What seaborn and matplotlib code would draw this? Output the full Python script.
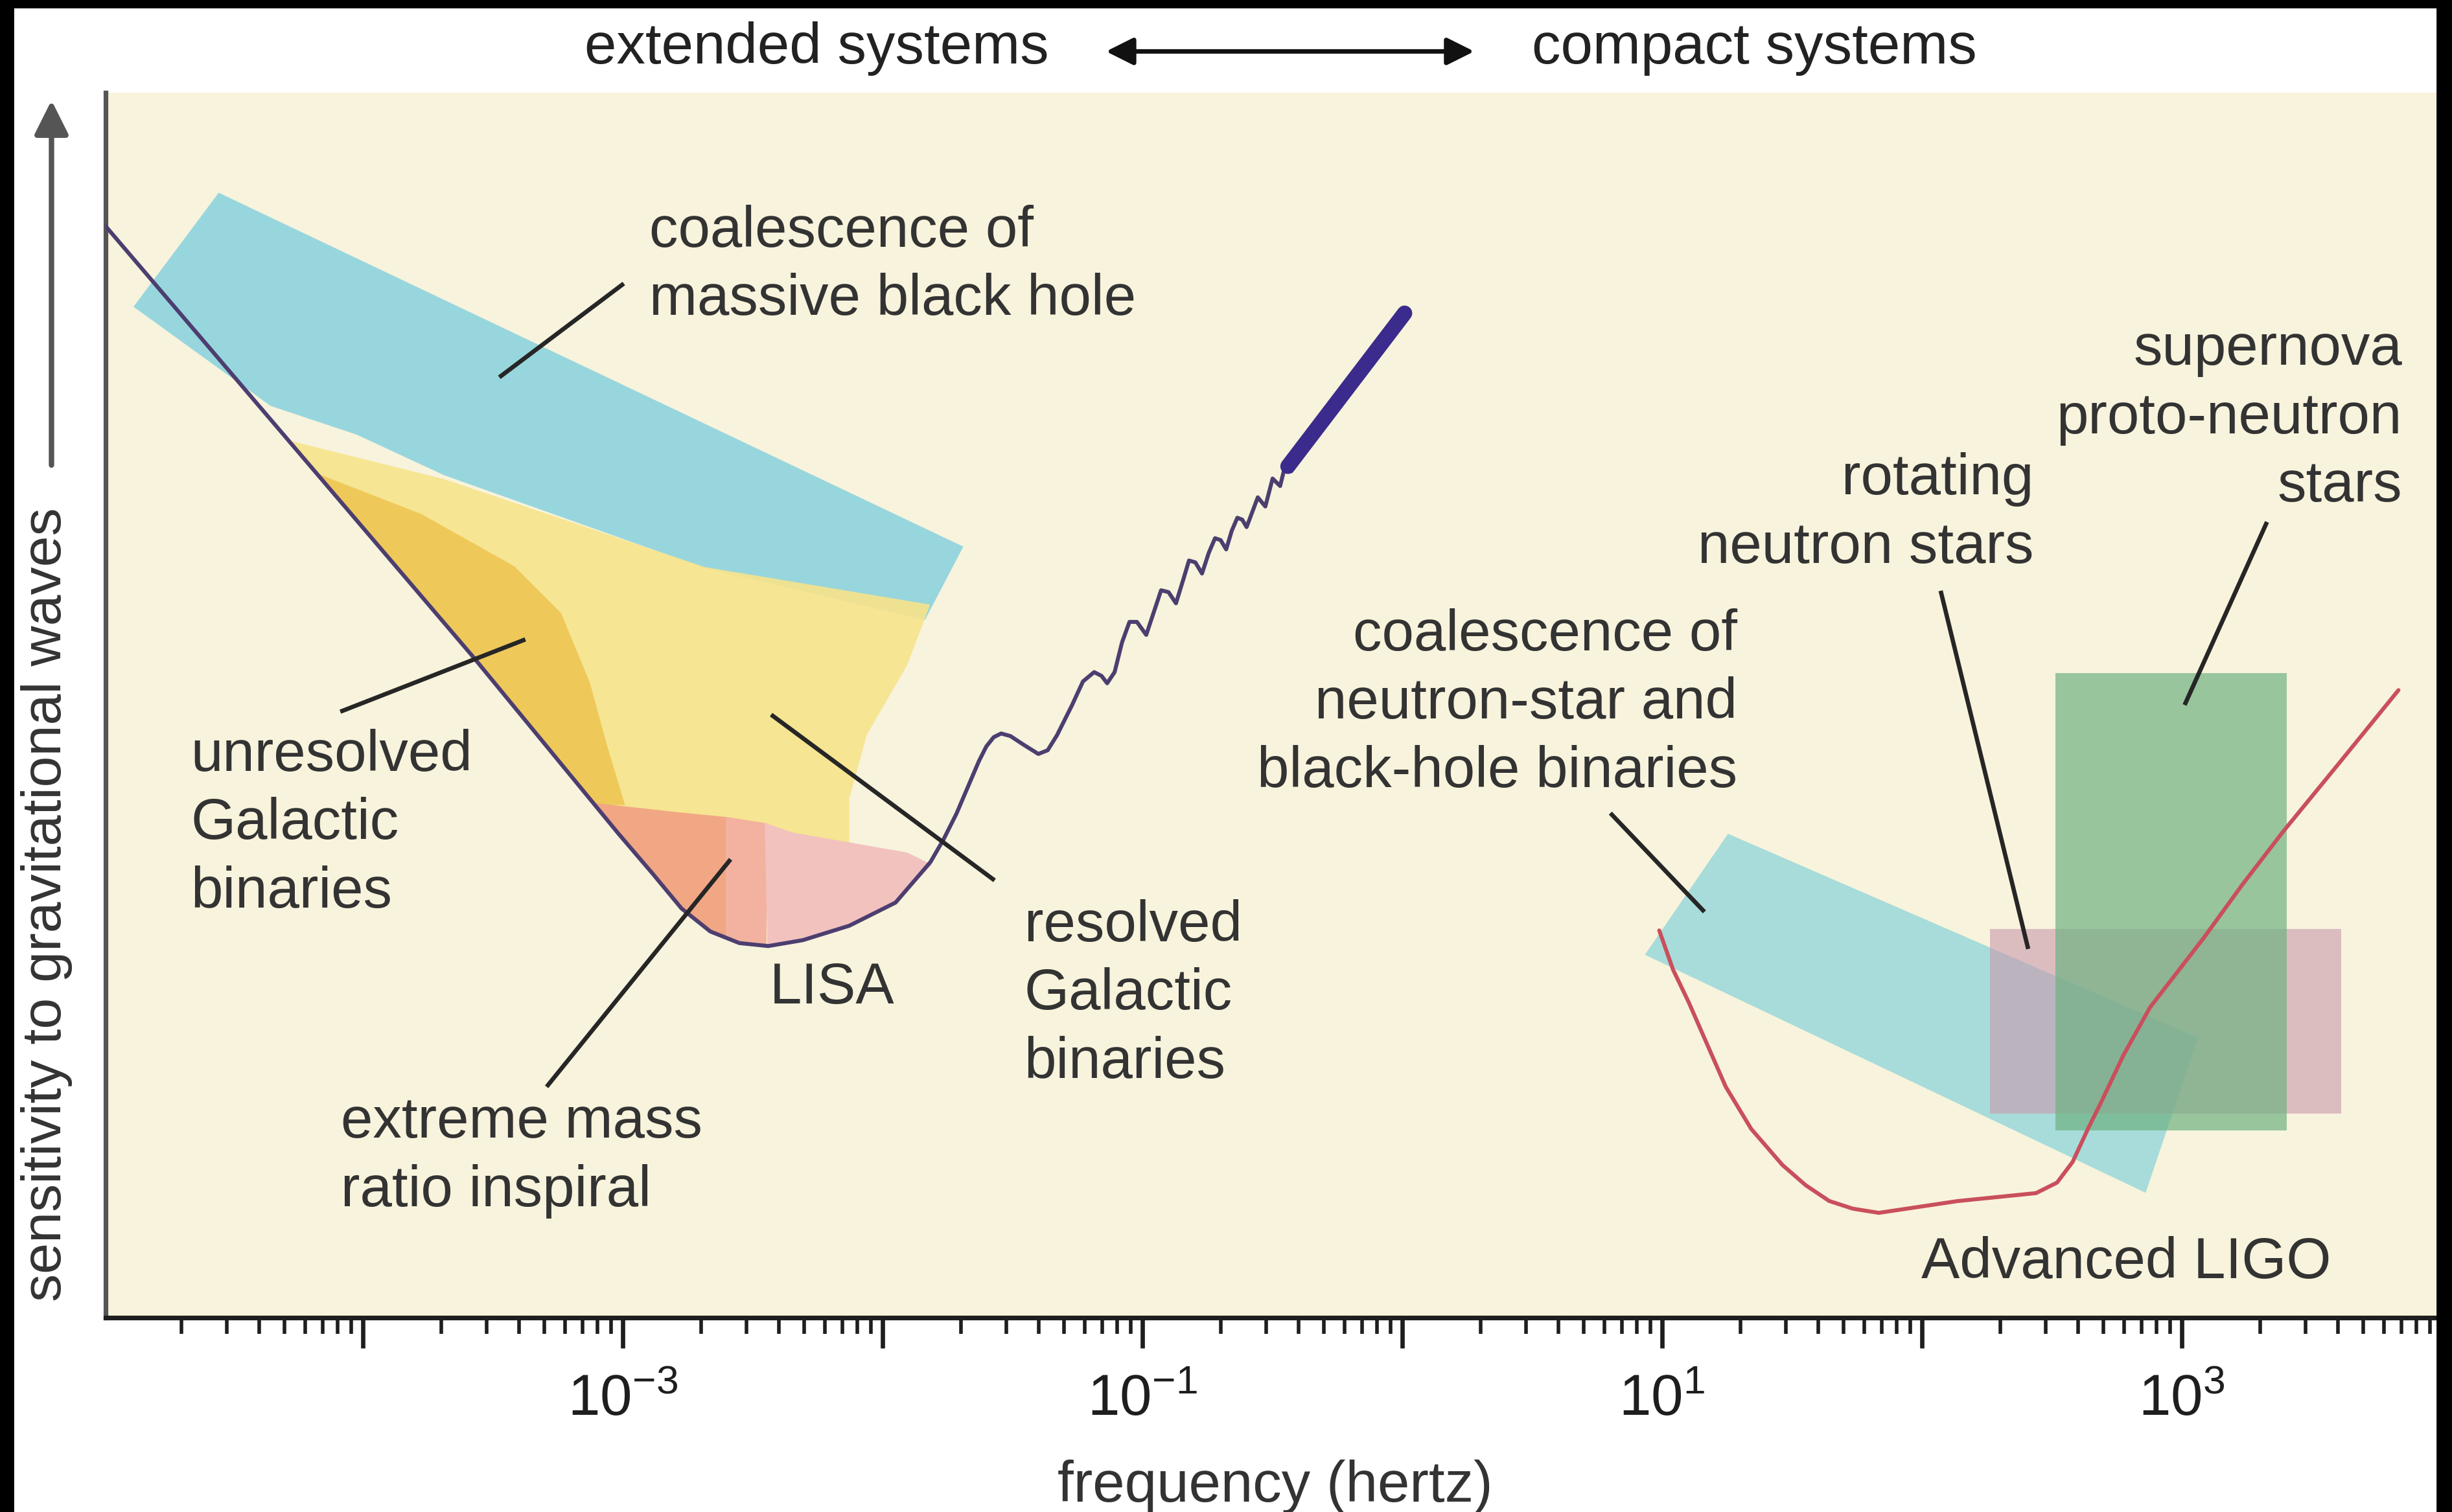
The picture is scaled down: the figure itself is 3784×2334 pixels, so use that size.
import numpy as np
import matplotlib
matplotlib.use('Agg')
import matplotlib.pyplot as plt
import seaborn as sns
from matplotlib.patches import Rectangle, FancyArrowPatch
from matplotlib.ticker import FixedLocator, LogLocator, FuncFormatter, NullFormatter

# --- data: x = log10(frequency / Hz), y = sensitivity (arbitrary 0-100) ---

# LISA sensitivity curve, with the chirp wiggles at its right end
lisa_logf = [-4.99, -3.576, -3.018, -2.885, -2.774, -2.663, -2.551, -2.440, -2.307, -2.128,
             -1.950, -1.816, -1.7655, -1.7154, -1.6725, -1.6296, -1.6009, -1.5723, -1.5437,
             -1.5079, -1.4578, -1.4006, -1.3648, -1.3290, -1.2717, -1.2288, -1.1858, -1.1572,
             -1.1357, -1.1071, -1.0785, -1.0498, -1.0212, -0.9854, -0.9568, -0.9282, -0.8996,
             -0.8709, -0.8423, -0.8208, -0.7965, -0.7707, -0.7450, -0.7206, -0.6992, -0.6777,
             -0.6562, -0.6347, -0.6161, -0.5990, -0.556, -0.527, -0.499, -0.470, -0.449, -0.427]
lisa_sens = [89.1, 53.95, 39.55, 36.25, 33.41, 31.53, 30.58, 30.34, 30.82, 32.0,
             33.89, 37.19, 39.04, 41.16, 43.29, 45.42, 46.63, 47.39, 47.69,
             47.48, 46.78, 46.02, 46.32, 47.54, 49.97, 51.94, 52.70, 52.39,
             51.79, 52.70, 55.13, 56.80, 56.80, 55.74, 57.56, 59.38, 59.23,
             58.32, 60.29, 61.81, 61.66, 60.75, 62.42, 63.63, 63.48, 62.72,
             64.24, 65.30, 65.15, 64.54, 66.97, 66.22, 68.50, 67.89, 69.71, 69.10]
# dense end of the chirp (drawn as one thick stroke)
chirp_logf = [-0.44, 0.009]
chirp_sens = [69.5, 82.0]

# Advanced LIGO sensitivity curve
ligo_logf = [0.989, 1.042, 1.102, 1.245, 1.343, 1.463, 1.553, 1.643, 1.734, 1.834, 2.137,
             2.439, 2.520, 2.580, 2.641, 2.691, 2.775, 2.878, 3.083, 3.232, 3.388, 3.611, 3.834]
ligo_sens = [31.61, 28.42, 25.77, 18.85, 15.41, 12.47, 10.81, 9.53, 8.90, 8.56, 9.52,
             10.17, 11.03, 12.72, 15.51, 17.65, 21.41, 25.34, 30.96, 35.32, 39.63, 45.41, 51.23]

# source regions (polygon corners)
bh_logf = [-4.554, -1.694, -1.839, -2.685, -3.687, -4.021, -4.354, -4.878]
bh_sens = [91.74, 62.91, 57.03, 61.28, 68.85, 72.14, 74.5, 82.54]

resolved_logf = [-4.288, -3.687, -2.685, -1.817, -1.906, -2.061, -2.128, -2.128, -2.952, -3.081]
resolved_sens = [71.62, 68.45, 61.28, 58.21, 53.25, 47.58, 42.39, 38.14, 41.44, 41.44]

unresolved_logf = [-4.176, -3.776, -3.419, -3.241, -3.130, -3.063, -2.996, -3.099]
unresolved_sens = [68.83, 65.53, 61.28, 57.50, 51.83, 46.64, 41.92, 41.92]

emri_left_logf = [-3.099, -2.796, -2.60, -2.60, -2.663, -2.774, -2.885, -3.018]
emri_left_sens = [41.92, 41.21, 40.8, 31.1, 31.53, 33.41, 36.25, 39.55]
emri_mid_logf = [-2.60, -2.45, -2.45, -2.551, -2.60]
emri_mid_sens = [40.8, 40.3, 30.4, 30.58, 31.1]
emri_right_logf = [-2.45, -2.351, -1.906, -1.817, -1.950, -2.128, -2.307, -2.440]
emri_right_sens = [40.3, 39.55, 37.90, 36.96, 33.89, 32.0, 30.82, 30.34]

nsbh_logf = [1.255, 3.058, 2.859, 0.939]
nsbh_sens = [39.41, 22.81, 10.30, 29.66]

rotating_logf = [2.261, 3.613]
rotating_sens = [16.68, 31.74]
supernova_logf = [2.515, 3.405]
supernova_sens = [15.28, 52.62]

# labels: text, log10 f, y, alignment
labels = [
    ("coalescence of\nmassive black hole", -2.899, 85.86, "left"),
    ("unresolved\nGalactic\nbinaries", -4.662, 40.29, "left"),
    ("resolved\nGalactic\nbinaries", -1.455, 26.38, "left"),
    ("LISA", -2.195, 26.89, "center"),
    ("extreme mass\nratio inspiral", -4.084, 13.11, "left"),
    ("supernova\nproto-neutron\nstars", 3.848, 73.41, "right"),
    ("rotating\nneutron stars", 2.429, 65.62, "right"),
    ("coalescence of\nneutron-star and\nblack-hole binaries", 1.289, 50.12, "right"),
    ("Advanced LIGO", 2.787, 4.43, "center"),
]

# pointer lines: (log10 f start, y start, log10 f end, y end)
pointers = [
    (-3.475, 76.77, -2.996, 84.42),
    (-4.087, 49.47, -3.375, 55.37),
    (-2.429, 49.23, -1.569, 35.7),
    (-2.585, 37.42, -3.293, 18.85),
    (0.801, 41.19, 1.163, 33.13),
    (2.072, 59.34, 2.409, 30.10),
    (3.328, 64.96, 3.011, 50.02),
]

tick_decades = list(range(-5, 5))
labelled_decades = [-3, -1, 1, 3]

# --- style ---
sns.set_style("white")
plt.rcParams['font.family'] = ['Liberation Sans', 'DejaVu Sans']
plt.rcParams['mathtext.fontset'] = 'custom'
plt.rcParams['mathtext.rm'] = 'Liberation Sans'
plt.rcParams['mathtext.default'] = 'regular'

text_col = '#333333'
fs = 32

fig = plt.figure(figsize=(18.92, 11.67), dpi=200, facecolor='white')
ax = fig.add_axes([0.0431, 0.1285, 1 - 0.0431, 0.8102])
ax.set_facecolor('#f8f3dc')
ax.set_xscale('log')


def hz(v):
    return 10 ** np.asarray(v, dtype=float)


def region(xs, ys, col, z, alpha=1.0, seam=True):
    # an edge in the fill colour hides hairline gaps between touching regions
    ax.fill(hz(xs), ys, facecolor=col, edgecolor=col if seam else 'none',
            lw=1.0 if seam else 0, alpha=alpha, zorder=z)


# regions
region(bh_logf, bh_sens, '#98d6de', 1)
region(resolved_logf, resolved_sens, '#f6e48c', 1.1, alpha=0.92, seam=False)
region(unresolved_logf, unresolved_sens, '#eec95a', 1.2)
region(emri_left_logf, emri_left_sens, '#f1a784', 1.3)
region(emri_mid_logf, emri_mid_sens, '#f2b29f', 1.3)
region(emri_right_logf, emri_right_sens, '#f2c2bf', 1.3)

region(nsbh_logf, nsbh_sens, '#a7dcda', 1)
rx = [rotating_logf[0], rotating_logf[1], rotating_logf[1], rotating_logf[0]]
ry = [rotating_sens[0], rotating_sens[0], rotating_sens[1], rotating_sens[1]]
region(rx, ry, '#c99aae', 1.1, alpha=0.6, seam=False)
sx = [supernova_logf[0], supernova_logf[1], supernova_logf[1], supernova_logf[0]]
sy = [supernova_sens[0], supernova_sens[0], supernova_sens[1], supernova_sens[1]]
region(sx, sy, '#6fb282', 1.2, alpha=0.7, seam=False)

# detector curves
sns.lineplot(x=hz(lisa_logf), y=lisa_sens, sort=False, estimator=None,
             color='#4d3e70', lw=2.2, ax=ax, zorder=3)
sns.lineplot(x=hz(chirp_logf), y=chirp_sens, sort=False, estimator=None,
             color='#3b2b8c', lw=8.5, ax=ax, zorder=3, solid_capstyle='round')
sns.lineplot(x=hz(ligo_logf), y=ligo_sens, sort=False, estimator=None,
             color='#c94f5c', lw=2.2, ax=ax, zorder=3)

# pointer lines
for x0, y0, x1, y1 in pointers:
    ax.plot(hz([x0, x1]), [y0, y1], color='#262626', lw=2.4, zorder=4,
            solid_capstyle='butt')

# labels
for txt, lx, ly, ha in labels:
    ax.text(10 ** lx, ly, txt, ha=ha, va='center', multialignment=ha,
            fontsize=fs, color=text_col, linespacing=1.33, zorder=5)

# axes
ax.set_xlim(10 ** -4.99, 10 ** 4.04)
ax.set_ylim(0, 100)
ax.set_yticks([])
ax.xaxis.set_major_locator(FixedLocator([10.0 ** d for d in tick_decades]))
ax.xaxis.set_minor_locator(LogLocator(base=10, subs=np.arange(2, 10), numticks=50))
ax.xaxis.set_minor_formatter(NullFormatter())


def fmt(v, pos):
    d = int(round(np.log10(v)))
    return r'$10^{%d}$' % d if d in labelled_decades else ''


ax.xaxis.set_major_formatter(FuncFormatter(fmt))
ax.tick_params(axis='x', which='major', direction='out', length=17, width=2.4,
               pad=14, labelsize=fs, colors='#1e1e1e', bottom=True)
ax.tick_params(axis='x', which='minor', direction='out', length=9, width=2.0,
               colors='#1e1e1e', bottom=True)

for s in ['top', 'right']:
    ax.spines[s].set_visible(False)
ax.spines['left'].set_color('#555555')
ax.spines['left'].set_linewidth(2.6)
ax.spines['bottom'].set_color('#1e1e1e')
ax.spines['bottom'].set_linewidth(2.6)

# axis titles and the header
fig.text(0.520, 0.0165, 'frequency (hertz)', ha='center', va='center',
         fontsize=fs, color=text_col)
fig.text(0.019, 0.402, 'sensitivity to gravitational waves', rotation=90,
         ha='center', va='center', fontsize=31, color=text_col)
fig.patches.append(FancyArrowPatch((0.021, 0.690), (0.021, 0.936),
                                   transform=fig.transFigure, arrowstyle='-|>',
                                   mutation_scale=40, lw=3, color='#555555'))

fig.text(0.333, 0.968, 'extended systems', ha='center', va='center',
         fontsize=fs, color='#222222')
fig.text(0.7156, 0.968, 'compact systems', ha='center', va='center',
         fontsize=fs, color='#222222')
fig.patches.append(FancyArrowPatch((0.4496, 0.966), (0.6027, 0.966),
                                   transform=fig.transFigure, arrowstyle='<|-|>',
                                   mutation_scale=32, lw=2.5, color='#111111'))

# black scan borders of the original picture
for rect in [(0, 0, 0.0053, 1), (0, 0.9953, 1, 0.0047), (0.9939, 0, 0.0061, 1)]:
    fig.patches.append(Rectangle(rect[:2], rect[2], rect[3], transform=fig.transFigure,
                                 color='black', zorder=10))

fig.savefig('out.png', dpi=200, facecolor='white')
